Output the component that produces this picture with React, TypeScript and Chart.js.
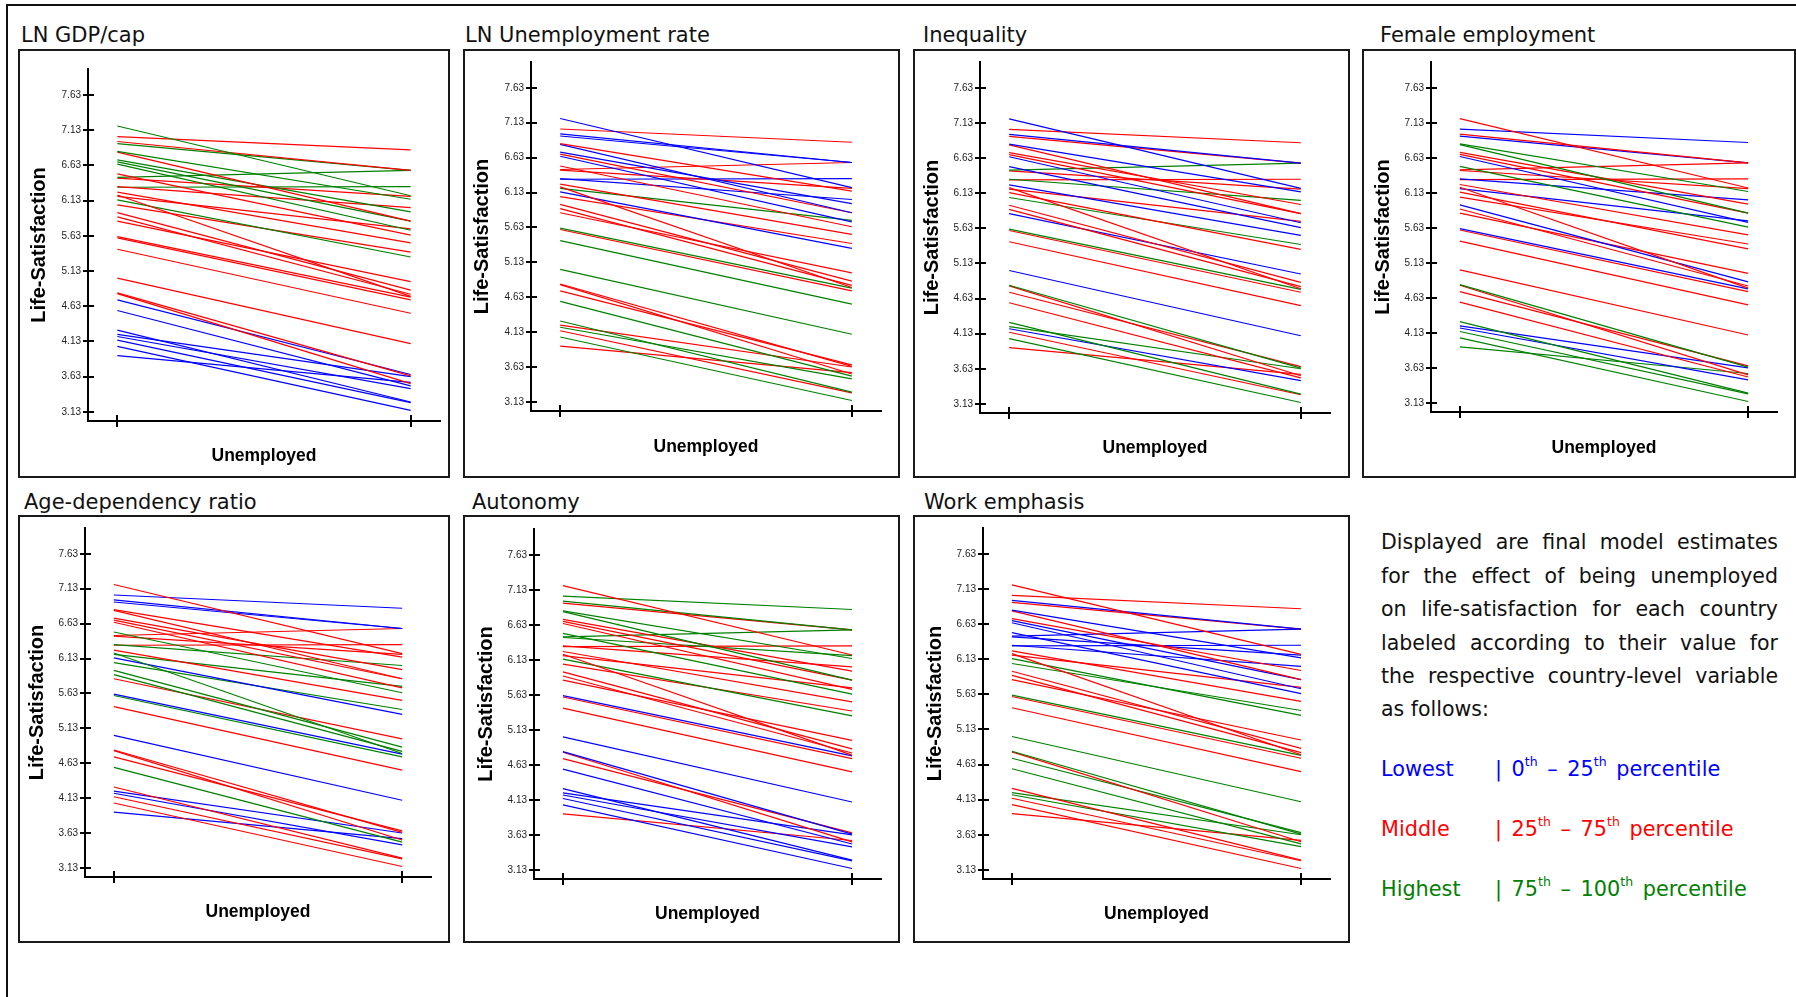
import React, { useEffect, useRef } from 'react';
import { Chart, registerables } from 'chart.js';

Chart.register(...registerables);

// ---------------- DATA ----------------
// x categories: 0 = employed, 1 = unemployed
const X_POSITIONS = [0, 1];
const X_TITLE = 'Unemployed';
const Y_TITLE = 'Life-Satisfaction';

// Model estimate of life-satisfaction per country (same 36 countries in every panel)
const LS_EMPLOYED = [
  7.19, 7.04, 6.97, 6.94, 6.83, 6.82, 6.71, 6.68, 6.65, 6.51, 6.46, 6.45,
  6.33, 6.32, 6.25, 6.21, 6.19, 6.14, 6.07, 5.96, 5.9, 5.84, 5.62, 5.6,
  5.44, 5.03, 4.82, 4.81, 4.72, 4.57, 4.29, 4.23, 4.2, 4.15, 4.06, 3.93,
];
const LS_UNEMPLOYED = [
  6.2, 6.85, 6.56, 6.56, 6.15, 5.84, 5.97, 5.84, 5.71, 5.64, 6.56, 6.19,
  6.03, 6.33, 5.53, 4.77, 5.73, 5.33, 5.4, 4.86, 4.8, 4.98, 4.76, 4.72,
  4.53, 4.1, 3.64, 3.53, 3.66, 3.5, 3.27, 3.63, 3.46, 3.26, 3.15, 3.55,
];

const Y_TICKS = [3.13, 3.63, 4.13, 4.63, 5.13, 5.63, 6.13, 6.63, 7.13, 7.63];
const Y_TICK_LABELS = ['3.13', '3.63', '4.13', '4.63', '5.13', '5.63', '6.13', '6.63', '7.13', '7.63'];

// Group of each country per country-level variable: L = lowest, M = middle, H = highest
const GROUP_LN_GDP = 'HMMHHMHHHMHMMHMMMHMMMMMMMMMMLLLLLLLL'.split('');
const GROUP_LN_UNEMP = 'LMLLMLLMLMMMLLMMHLMMMMHMHHMMMHHMHMHM'.split('');
const GROUP_INEQUALITY = 'LMLMLMMMLLHMHMLMMMHMMLHMMLHMMMHHLMHM'.split('');
const GROUP_FEMALE_EMP = 'MLMLHHMMLHMMLMMMLMMLMMLMMMHMMMHLLHHH'.split('');
const GROUP_AGE_DEP = 'MLLLMMMMMHMMHMMHHLHHHMLHMLMMMHMLLMML'.split('');
const GROUP_AUTONOMY = 'MHHMHHMMMHHHMMMMMHMMMMLMMLLMMLLLLLLM'.split('');
const GROUP_WORK_EMPH = 'MMLMLMMLLLLLLLMMMHHMMMHMMHHMHHMHHMMM'.split('');

const PANEL_TITLES = [
  'LN GDP/cap',
  'LN Unemployment rate',
  'Inequality',
  'Female employment',
  'Age-dependency ratio',
  'Autonomy',
  'Work emphasis',
];
const PANEL_GROUPS = [
  GROUP_LN_GDP,
  GROUP_LN_UNEMP,
  GROUP_INEQUALITY,
  GROUP_FEMALE_EMP,
  GROUP_AGE_DEP,
  GROUP_AUTONOMY,
  GROUP_WORK_EMPH,
];

const DESC_LINES = [
  'Displayed are final model estimates',
  'for the effect of being unemployed',
  'on life-satisfaction for each country',
  'labeled according to their value for',
  'the respective country-level variable',
  'as follows:',
];
const LEGEND_LABELS = ['Lowest', 'Middle', 'Highest'];
const LEGEND_FROM = ['0', '25', '75'];
const LEGEND_TO = ['25', '75', '100'];

// ---------------- STYLE / LAYOUT ----------------
const GROUP_COLORS: Record<string, string> = { L: '#0000ff', M: '#ff0000', H: '#008000' };
const LEGEND_KEYS = ['L', 'M', 'H'];

type Geo = {
  box: [number, number, number, number];
  plot: [number, number, number, number];
  titleX: number;
  titleBase: number;
  yTitle: number;
  xTitle: number;
};

const GEOS: Geo[] = [
  { box: [18, 49, 450, 478], plot: [88, 69, 440, 421], titleX: 21, titleBase: 43.2, yTitle: 21.7, xTitle: 21.7 },
  { box: [463, 49, 900, 478], plot: [531, 59, 881, 411], titleX: 465, titleBase: 43.2, yTitle: 19, xTitle: 31 },
  { box: [913, 49, 1350, 478], plot: [980, 62, 1330, 413], titleX: 923, titleBase: 43.2, yTitle: 19, xTitle: 29.7 },
  { box: [1362, 49, 1796, 478], plot: [1431, 58, 1777, 412], titleX: 1380, titleBase: 43.2, yTitle: 21, xTitle: 29.7 },
  { box: [18, 515, 450, 943], plot: [85, 524, 431, 877], titleX: 24, titleBase: 510.2, yTitle: 19, xTitle: 30.5 },
  { box: [463, 515, 900, 943], plot: [534, 529, 881, 879], titleX: 472, titleBase: 510.2, yTitle: 23, xTitle: 28.7 },
  { box: [913, 515, 1350, 943], plot: [983, 525, 1330, 879], titleX: 924, titleBase: 510.2, yTitle: 22.5, xTitle: 28.7 },
];

const crossTicks = {
  id: 'crossTicks',
  afterDraw(chart: any) {
    const { ctx, chartArea, scales } = chart;
    ctx.save();
    ctx.strokeStyle = '#000';
    ctx.lineWidth = 2;
    scales.y.ticks.forEach((t: any) => {
      const y = Math.round(scales.y.getPixelForValue(t.value));
      ctx.beginPath();
      ctx.moveTo(chartArea.left - 5, y);
      ctx.lineTo(chartArea.left + 6, y);
      ctx.stroke();
    });
    scales.x.ticks.forEach((t: any) => {
      const x = Math.round(scales.x.getPixelForValue(t.value));
      ctx.beginPath();
      ctx.moveTo(x, chartArea.bottom - 6);
      ctx.lineTo(x, chartArea.bottom + 6);
      ctx.stroke();
    });
    ctx.restore();
  },
};

function Panel({ title, groups, geo }: { title: string; groups: string[]; geo: Geo }) {
  const ref = useRef<HTMLCanvasElement>(null);
  const [bl, bt, br, bb] = geo.box;
  const [pl, pt, pr, pb] = geo.plot;
  const w = br - bl;
  const h = bb - bt;

  useEffect(() => {
    if (!ref.current) return;
    const datasets = LS_EMPLOYED.map((v, i) => ({
      label: 'country ' + (i + 1),
      data: [
        { x: X_POSITIONS[0], y: v },
        { x: X_POSITIONS[1], y: LS_UNEMPLOYED[i] },
      ],
      borderColor: GROUP_COLORS[groups[i]],
      backgroundColor: GROUP_COLORS[groups[i]],
      borderWidth: 1.2,
      pointRadius: 0,
      fill: false,
      tension: 0,
    }));
    const yTitleSize = 20;
    const xTitleSize = 17.5;
    const chart = new Chart(ref.current, {
      type: 'line',
      data: { datasets },
      plugins: [crossTicks],
      options: {
        animation: false,
        responsive: false,
        devicePixelRatio: 1,
        events: [],
        layout: { padding: { left: 0, top: pt - bt, right: br - pr, bottom: 0 } },
        plugins: { legend: { display: false }, tooltip: { enabled: false }, title: { display: false } },
        scales: {
          x: {
            type: 'linear',
            min: -0.1,
            max: 1.1,
            afterBuildTicks: (s: any) => {
              s.ticks = X_POSITIONS.map((v) => ({ value: v }));
            },
            afterFit: (s: any) => {
              s.height = bb - pb;
            },
            ticks: { display: false },
            grid: { display: false, drawTicks: false },
            border: { display: true, color: '#000', width: 2 },
            title: {
              display: true,
              text: X_TITLE,
              color: '#000',
              font: { family: 'Liberation Sans', weight: 'bold', size: xTitleSize },
              padding: { top: 0, bottom: geo.xTitle - (xTitleSize * 1.2) / 2 },
            },
          },
          y: {
            type: 'linear',
            min: 3.0,
            max: 8.0,
            afterBuildTicks: (s: any) => {
              s.ticks = Y_TICKS.map((v) => ({ value: v }));
            },
            afterFit: (s: any) => {
              s.width = pl - bl;
            },
            ticks: {
              padding: 7,
              color: '#222',
              font: { family: 'Liberation Sans', size: 10 },
              callback: (value: any) => {
                const idx = Y_TICKS.findIndex((t) => Math.abs(t - Number(value)) < 1e-6);
                return idx >= 0 ? Y_TICK_LABELS[idx] : '';
              },
            },
            grid: { display: false, drawTicks: false },
            border: { display: true, color: '#000', width: 2 },
            title: {
              display: true,
              text: Y_TITLE,
              color: '#000',
              font: { family: 'Liberation Sans', weight: 'bold', size: yTitleSize },
              padding: { top: geo.yTitle - (yTitleSize * 1.2) / 2, bottom: 0 },
            },
          },
        },
      } as any,
    });
    return () => chart.destroy();
  }, []);

  return (
    <>
      <div
        style={{
          position: 'absolute',
          left: geo.titleX,
          top: geo.titleBase - 17.8,
          fontFamily: 'DejaVu Sans',
          fontSize: 21,
          lineHeight: '21px',
          color: '#111',
          whiteSpace: 'nowrap',
        }}
      >
        {title}
      </div>
      <canvas
        ref={ref}
        width={w}
        height={h}
        style={{ position: 'absolute', left: bl, top: bt, width: w, height: h }}
      />
      <div
        style={{
          position: 'absolute',
          left: bl,
          top: bt,
          width: w,
          height: h,
          boxSizing: 'border-box',
          border: '2px solid #1a1a1a',
          pointerEvents: 'none',
        }}
      />
    </>
  );
}

const supStyle: React.CSSProperties = {
  fontSize: 12.5,
  position: 'relative',
  top: -10,
  verticalAlign: 'baseline',
  wordSpacing: 0,
};

export default function App() {
  const baselines = [777, 837, 897];
  return (
    <div
      style={{
        position: 'absolute',
        left: 0,
        top: 0,
        width: 1796,
        height: 997,
        background: '#fff',
        overflow: 'hidden',
      }}
    >
      <div
        style={{
          position: 'absolute',
          left: 6,
          top: 4,
          width: 1800,
          height: 1000,
          borderLeft: '2px solid #111',
          borderTop: '2px solid #111',
        }}
      />
      {PANEL_TITLES.map((t, i) => (
        <Panel key={t} title={t} groups={PANEL_GROUPS[i]} geo={GEOS[i]} />
      ))}
      <div
        style={{
          position: 'absolute',
          left: 1381,
          top: 526.3,
          width: 397,
          fontFamily: 'DejaVu Sans',
          fontSize: 20.5,
          lineHeight: '33.4px',
          color: '#111',
        }}
      >
        {DESC_LINES.map((line, i) => (
          <div
            key={i}
            style={{
              textAlign: 'justify',
              textAlignLast: i < DESC_LINES.length - 1 ? 'justify' : 'left',
            }}
          >
            {line}
          </div>
        ))}
      </div>
      {LEGEND_LABELS.map((lab, i) => (
        <React.Fragment key={lab}>
          <div
            style={{
              position: 'absolute',
              left: 1381,
              top: baselines[i] - 23.7,
              fontFamily: 'DejaVu Sans',
              fontSize: 20.8,
              lineHeight: '33.4px',
              color: GROUP_COLORS[LEGEND_KEYS[i]],
              whiteSpace: 'nowrap',
            }}
          >
            {lab}
          </div>
          <div
            style={{
              position: 'absolute',
              left: 1495,
              top: baselines[i] - 23.7,
              fontFamily: 'DejaVu Sans',
              fontSize: 20.8,
              lineHeight: '33.4px',
              color: GROUP_COLORS[LEGEND_KEYS[i]],
              whiteSpace: 'pre',
              wordSpacing: 3,
            }}
          >
            {'| ' + LEGEND_FROM[i]}
            <span style={supStyle}>th</span>
            {' \u2013 ' + LEGEND_TO[i]}
            <span style={supStyle}>th</span>
            {' percentile'}
          </div>
        </React.Fragment>
      ))}
    </div>
  );
}
